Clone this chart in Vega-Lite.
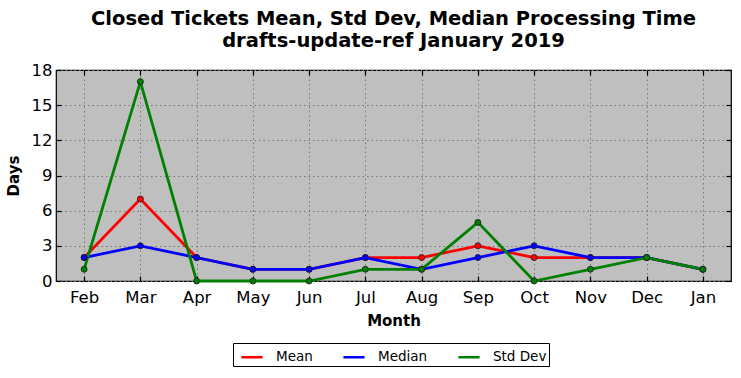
{
  "$schema": "https://vega.github.io/schema/vega-lite/v6.json",
  "width": 675,
  "height": 211,
  "autosize": {"type": "none"},
  "padding": {"left": 56, "top": 70, "right": 10, "bottom": 97},
  "background": "white",
  "config": {
    "font": "DejaVu Sans",
    "view": {"fill": "#bfbfbf", "stroke": "black", "strokeWidth": 1.2},
    "axis": {"domain": false, "grid": true, "gridColor": "#777777", "gridDash": [1.5, 3], "gridWidth": 1, "tickColor": "black", "tickSize": -5, "tickWidth": 1.2, "labelFont": "DejaVu Sans", "labelFontSize": 16.5, "labelColor": "black", "titleFont": "DejaVu Sans", "titleFontSize": 15, "titleFontWeight": "bold", "titleColor": "black"}
  },
  "title": {
    "text": ["Closed Tickets Mean, Std Dev, Median Processing Time", "drafts-update-ref January 2019"],
    "font": "DejaVu Sans",
    "fontSize": 19.5,
    "fontWeight": "bold",
    "color": "black",
    "anchor": "middle",
    "lineHeight": 22,
    "offset": 11
  },
  "data": {
    "values": [
      {"month": "Feb", "series": "Mean", "days": 2},
      {"month": "Mar", "series": "Mean", "days": 7},
      {"month": "Apr", "series": "Mean", "days": 2},
      {"month": "May", "series": "Mean", "days": 1},
      {"month": "Jun", "series": "Mean", "days": 1},
      {"month": "Jul", "series": "Mean", "days": 2},
      {"month": "Aug", "series": "Mean", "days": 2},
      {"month": "Sep", "series": "Mean", "days": 3},
      {"month": "Oct", "series": "Mean", "days": 2},
      {"month": "Nov", "series": "Mean", "days": 2},
      {"month": "Dec", "series": "Mean", "days": 2},
      {"month": "Jan", "series": "Mean", "days": 1},
      {"month": "Feb", "series": "Median", "days": 2},
      {"month": "Mar", "series": "Median", "days": 3},
      {"month": "Apr", "series": "Median", "days": 2},
      {"month": "May", "series": "Median", "days": 1},
      {"month": "Jun", "series": "Median", "days": 1},
      {"month": "Jul", "series": "Median", "days": 2},
      {"month": "Aug", "series": "Median", "days": 1},
      {"month": "Sep", "series": "Median", "days": 2},
      {"month": "Oct", "series": "Median", "days": 3},
      {"month": "Nov", "series": "Median", "days": 2},
      {"month": "Dec", "series": "Median", "days": 2},
      {"month": "Jan", "series": "Median", "days": 1},
      {"month": "Feb", "series": "Std Dev", "days": 1},
      {"month": "Mar", "series": "Std Dev", "days": 17},
      {"month": "Apr", "series": "Std Dev", "days": 0},
      {"month": "May", "series": "Std Dev", "days": 0},
      {"month": "Jun", "series": "Std Dev", "days": 0},
      {"month": "Jul", "series": "Std Dev", "days": 1},
      {"month": "Aug", "series": "Std Dev", "days": 1},
      {"month": "Sep", "series": "Std Dev", "days": 5},
      {"month": "Oct", "series": "Std Dev", "days": 0},
      {"month": "Nov", "series": "Std Dev", "days": 1},
      {"month": "Dec", "series": "Std Dev", "days": 2},
      {"month": "Jan", "series": "Std Dev", "days": 1}
    ]
  },
  "encoding": {
    "color": {
      "field": "series", "type": "nominal",
      "scale": {"domain": ["Mean","Median","Std Dev"], "range": ["#ff0000","#0000ff","#008000"]},
      "legend": {
        "title": null, "orient": "none", "legendX": 177, "legendY": 273,
        "direction": "horizontal", "symbolType": "stroke", "symbolStrokeWidth": 2.5, "symbolSize": 450,
        "symbolOffset": 5,
        "labelFontSize": 13.5, "labelFont": "DejaVu Sans", "labelColor": "black", "labelOffset": 12,
        "columnPadding": 24, "strokeColor": "black", "padding": 2, "fillColor": "white"
      }
    }
  },
  "layer": [
    {
      "mark": {"type": "line", "strokeWidth": 2.8},
      "encoding": {
        "x": {
          "field": "month", "type": "ordinal",
          "sort": ["Feb","Mar","Apr","May","Jun","Jul","Aug","Sep","Oct","Nov","Dec","Jan"],
          "scale": {"type": "point", "padding": 0.5},
          "axis": {"title": "Month", "labelAngle": 0, "labelPadding": 13, "titlePadding": 8}
        },
        "y": {
          "field": "days", "type": "quantitative",
          "scale": {"domain": [0, 18], "nice": false},
          "axis": {"title": "Days", "values": [0,3,6,9,12,15,18], "labelPadding": 9, "titlePadding": 10}
        }
      }
    },
    {
      "mark": {"type": "point", "filled": true, "size": 36, "stroke": "#1a1a1a", "strokeWidth": 0.8, "opacity": 1},
      "encoding": {
        "x": {
          "field": "month", "type": "ordinal",
          "sort": ["Feb","Mar","Apr","May","Jun","Jul","Aug","Sep","Oct","Nov","Dec","Jan"],
          "scale": {"type": "point", "padding": 0.5},
          "axis": {"orient": "top", "title": null, "labels": false, "grid": false}
        },
        "y": {
          "field": "days", "type": "quantitative",
          "scale": {"domain": [0, 18], "nice": false},
          "axis": {"orient": "right", "title": null, "labels": false, "grid": false, "values": [0,3,6,9,12,15,18]}
        }
      }
    }
  ],
  "resolve": {"axis": {"x": "independent", "y": "independent"}}
}
